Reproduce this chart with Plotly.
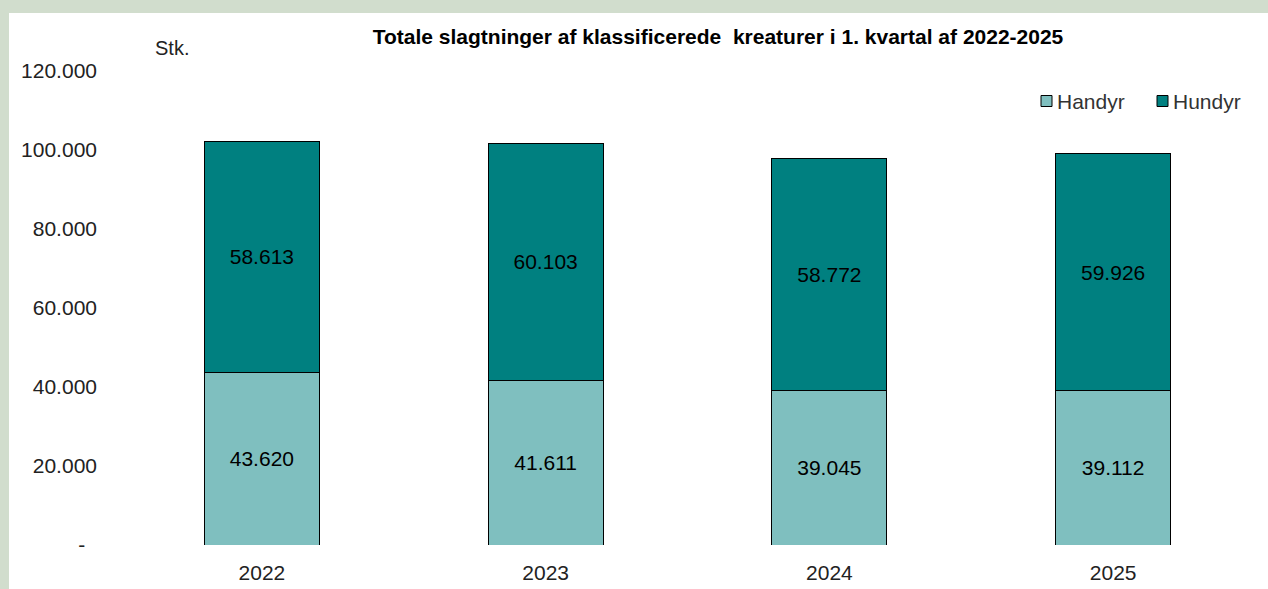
import plotly.graph_objects as go

years = ["2022", "2023", "2024", "2025"]
handyr = [43620, 41611, 39045, 39112]
hundyr = [58613, 60103, 58772, 59926]
series_names = ["Handyr", "Hundyr"]
series_colors = ["#7fbfbf", "#008080"]
ytick_vals = [0, 20000, 40000, 60000, 80000, 100000, 120000]
ytick_text = ["-\u00a0\u00a0", "20.000", "40.000", "60.000", "80.000", "100.000", "120.000"]

FONT = "Liberation Sans, Arial, sans-serif"
FS = 21
W, H = 1268, 589
ML, MR, MT, MB = 120, 13, 71, 44
PW, PH = W - ML - MR, H - MT - MB


def px_x(x):
    return (x - ML) / PW


def px_y(y):
    return (H - MB - y) / PH


fig = go.Figure()
for name, vals, col in zip(series_names, [handyr, hundyr], series_colors):
    fig.add_bar(x=years, y=vals, name=name,
                marker=dict(color=col, line=dict(color="#000000", width=1)),
                texttemplate="%{y:,.0f}", textposition="inside", insidetextanchor="middle",
                textfont=dict(color="#000000", size=FS, family=FONT), width=0.405,
                showlegend=False)

shapes = [dict(type="rect", xref="paper", yref="paper", layer="below",
               x0=px_x(9), x1=px_x(W + 60), y0=px_y(H + 60), y1=px_y(13),
               fillcolor="#ffffff", line=dict(width=0))]
annotations = [dict(text="Stk.", xref="paper", yref="paper", x=px_x(172), y=px_y(48),
                    showarrow=False, xanchor="center", yanchor="middle",
                    font=dict(size=FS - 1, family=FONT, color="#222222"))]

# custom legend
leg_x = [1041, 1157]
leg_y = 101
for lx, name, col in zip(leg_x, series_names, series_colors):
    shapes.append(dict(type="rect", xref="paper", yref="paper",
                       x0=px_x(lx), x1=px_x(lx + 11), y0=px_y(leg_y + 5.5), y1=px_y(leg_y - 5.5),
                       fillcolor=col, line=dict(color="#000000", width=1)))
    annotations.append(dict(text=name, xref="paper", yref="paper", x=px_x(lx + 14), y=px_y(leg_y),
                            showarrow=False, xanchor="left", yanchor="middle",
                            font=dict(size=FS, family=FONT, color="#333333")))

fig.update_layout(
    width=W, height=H, barmode="stack", separators=",.",
    margin=dict(l=ML, r=MR, t=MT, b=MB, autoexpand=False),
    paper_bgcolor="#d1ddcd", plot_bgcolor="rgba(0,0,0,0)",
    font=dict(family=FONT, size=FS, color="#000000"),
    title=dict(text="<b>Totale slagtninger af klassificerede  kreaturer i 1. kvartal af 2022-2025</b>",
               x=718 / W, xanchor="center", y=1 - 37 / H, yanchor="middle",
               font=dict(size=FS, family=FONT, color="#000000")),
    showlegend=False,
    xaxis=dict(showgrid=False, showline=False, zeroline=False, ticks="", automargin=False,
               ticklabelstandoff=13,
               tickfont=dict(size=FS, family=FONT, color="#222222")),
    yaxis=dict(range=[0, 120000], tickvals=ytick_vals, ticktext=ytick_text, automargin=False,
               showgrid=False, showline=False, zeroline=False, ticks="",
               ticklabelstandoff=22,
               tickfont=dict(size=FS, family=FONT, color="#222222")),
    shapes=shapes,
    annotations=annotations,
)

fig.write_html("out.html", config={"displayModeBar": False},
               post_script="document.body.style.margin='0';document.body.style.overflow='hidden';")
